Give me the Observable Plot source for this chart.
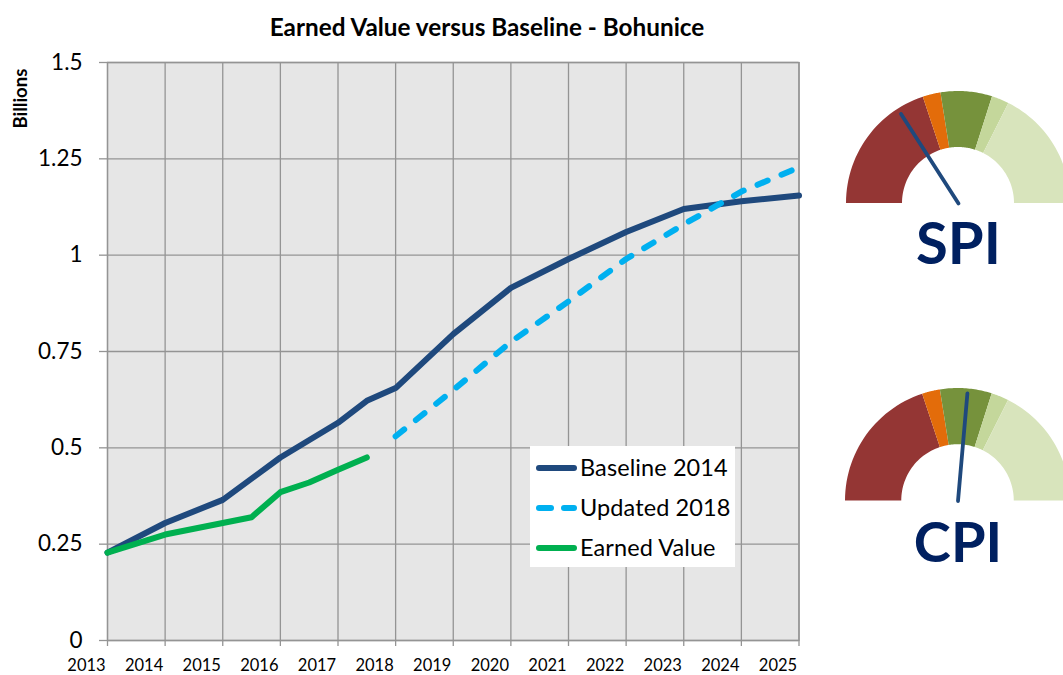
<!DOCTYPE html>
<html>
<head>
<meta charset="utf-8">
<script src="https://cdn.jsdelivr.net/npm/d3@7"></script>
<script src="https://cdn.jsdelivr.net/npm/@observablehq/plot@0.6"></script>
<style>
html,body{margin:0;padding:0;background:#fff;overflow:hidden;width:1063px;height:675px;font-family:Lato,sans-serif;}
#root{position:relative;width:1063px;height:675px;overflow:hidden;}
#root>*{position:absolute;}
svg{overflow:hidden;background:transparent !important;}
#title{left:187px;width:600px;top:13px;text-align:center;font-weight:700;font-size:24.3px;line-height:28px;color:#000;}
#legend{left:530px;top:446px;width:205px;height:121px;background:#fff;}
#legend .row{position:absolute;left:6px;height:40px;width:199px;}
#legend .sw{position:absolute;top:17.5px;height:6px;border-radius:3px;}
#legend .tx{position:absolute;left:44px;top:6px;font-size:23.5px;line-height:28px;color:#000;white-space:nowrap;letter-spacing:.1px;}
</style>
</head>
<body>
<div id="root"></div>
<script>
// Chart text
const titleText = "Earned Value versus Baseline - Bohunice";
const yLabel = "Billions";
const xTicks = [2013,2014,2015,2016,2017,2018,2019,2020,2021,2022,2023,2024,2025];
const yTicks = [0,0.25,0.5,0.75,1,1.25,1.5];

// Baseline 2014
const baselineYears = [2013,2014,2015,2016,2017,2017.5,2018,2019,2020,2021,2022,2023,2024,2025];
const baselineValues = [0.228,0.305,0.365,0.475,0.565,0.622,0.655,0.795,0.915,0.99,1.06,1.12,1.14,1.155];
// Updated 2018
const updatedYears = [2018,2019,2020,2021,2022,2023,2024,2025];
const updatedValues = [0.53,0.65,0.775,0.88,0.99,1.08,1.165,1.228];
// Earned Value
const earnedYears = [2013,2014,2015,2015.5,2016,2016.5,2017,2017.5];
const earnedValues = [0.228,0.275,0.305,0.32,0.385,0.41,0.443,0.475];

const seriesNames = ["Baseline 2014","Updated 2018","Earned Value"];
const seriesColors = ["#1f497d","#00b0f0","#00b050"];

// Gauges: shares of the half circle in degrees, left to right
const segmentNames = ["Red","Orange","Green","Light green","Pale green"];
const segmentColors = ["#943634","#e36c0a","#76923c","#c4d79b","#d8e4bc"];
const spiShares = [71.7,9.3,26.7,9,63.3];
const cpiShares = [71.7,9.3,26.7,9,63.3];
const spiNeedle = {angle:122.7,length:0.95};
const cpiNeedle = {angle:85,length:0.96};

const root = document.getElementById("root");
const fontFamily = "Lato, sans-serif";
const rows = (xs,ys)=>xs.map((x,i)=>({x,y:ys[i]}));
const gridColor = "#949494";

const main = Plot.plot({
  width:1063, height:675,
  marginLeft:107, marginRight:264.5, marginTop:62, marginBottom:35,
  style:{fontFamily,background:"transparent",color:"#000"},
  x:{domain:[2013,2025],label:null},
  y:{domain:[0,1.5],label:null},
  marks:[
    Plot.frame({fill:"#e6e6e6",stroke:gridColor,strokeWidth:1.3}),
    Plot.gridX(xTicks,{stroke:gridColor,strokeOpacity:1,strokeWidth:1.3}),
    Plot.gridY(yTicks,{stroke:gridColor,strokeOpacity:1,strokeWidth:1.3}),
    Plot.axisX({ticks:xTicks,text:null,tickSize:6,stroke:gridColor,strokeWidth:1.3,label:null}),
    Plot.axisX({ticks:xTicks,tickSize:0,tickPadding:18.5,dx:-21,tickFormat:d=>String(d),fontSize:16.5,label:null}),
    Plot.axisY({ticks:yTicks,tickSize:8,stroke:gridColor,strokeWidth:1.3,text:null,label:null}),
    Plot.axisY({ticks:yTicks,tickSize:0,tickPadding:25,tickFormat:d=>String(d),fontSize:22.5,label:null}),
    Plot.line(rows(baselineYears,baselineValues),{x:"x",y:"y",stroke:seriesColors[0],strokeWidth:6,strokeLinejoin:"round"}),
    Plot.line(rows(updatedYears,updatedValues),{x:"x",y:"y",stroke:seriesColors[1],strokeWidth:6,strokeDasharray:"11,15",strokeLinecap:"round",strokeLinejoin:"round"}),
    Plot.line(rows(earnedYears,earnedValues),{x:"x",y:"y",stroke:seriesColors[2],strokeWidth:6,strokeLinejoin:"round",strokeLinecap:"round"}),
    Plot.text([yLabel],{frameAnchor:"top-left",rotate:-90,dx:-94,dy:66,fontSize:18.5,fontWeight:700,fontFamily})
  ]
});
root.appendChild(main);
main.style.left="0";main.style.top="0";

const title = document.createElement("div");
title.id="title";title.textContent=titleText;root.appendChild(title);

const legend = document.createElement("div");legend.id="legend";
seriesNames.forEach((name,i)=>{
  const row=document.createElement("div");row.className="row";row.style.top=(i*40+1)+"px";
  const addSw=(l,w)=>{const s=document.createElement("div");s.className="sw";s.style.left=l+"px";s.style.width=w+"px";s.style.background=seriesColors[i];row.appendChild(s);};
  if(i===1){addSw(0,18);addSw(25,16);}else addSw(0,41);
  const t=document.createElement("div");t.className="tx";t.textContent=name;row.appendChild(t);
  legend.appendChild(row);
});
root.appendChild(legend);

function arcRows(shares){
  const out=[];let a=0;
  shares.forEach((s,k)=>{
    for(let j=0;j<=30;j++){
      const deg=a+s*j/30;const t=Math.PI-deg*Math.PI/180;
      out.push({seg:segmentNames[k],x1:0.5*Math.cos(t),y1:0.5*Math.sin(t),x2:Math.cos(t),y2:Math.sin(t)});
    }
    a+=s;
  });
  return out;
}
function gauge(label,shares,needle,left,top,radius,labelY,labelSize){
  const t=needle.angle*Math.PI/180;
  const pts=[{x:0,y:0},{x:needle.length*Math.cos(t),y:needle.length*Math.sin(t)}];
  const bottom=-0.75;
  const g=Plot.plot({
    width:radius*2,height:radius*(1-bottom),
    margin:0,
    style:{fontFamily,background:"transparent"},
    x:{domain:[-1,1],axis:null},
    y:{domain:[bottom,1],axis:null},
    color:{domain:segmentNames,range:segmentColors},
    marks:[
      Plot.area(arcRows(shares),{x1:"x1",y1:"y1",x2:"x2",y2:"y2",fill:"seg",z:"seg",curve:"linear"}),
      Plot.line(pts,{x:"x",y:"y",stroke:"#1f497d",strokeWidth:3.8,strokeLinecap:"round"}),
      Plot.text([label],{x:()=>0,y:()=>labelY,fontSize:labelSize,fontWeight:700,fill:"#002060",fontFamily,textAnchor:"middle",lineAnchor:"middle"})
    ]
  });
  g.style.left=left+"px";g.style.top=top+"px";
  root.appendChild(g);
}
gauge("SPI",spiShares,spiNeedle,846,91,112,-0.37,58);
gauge("CPI",cpiShares,cpiNeedle,844.5,387.5,112.5,-0.38,56);
</script>
</body>
</html>
